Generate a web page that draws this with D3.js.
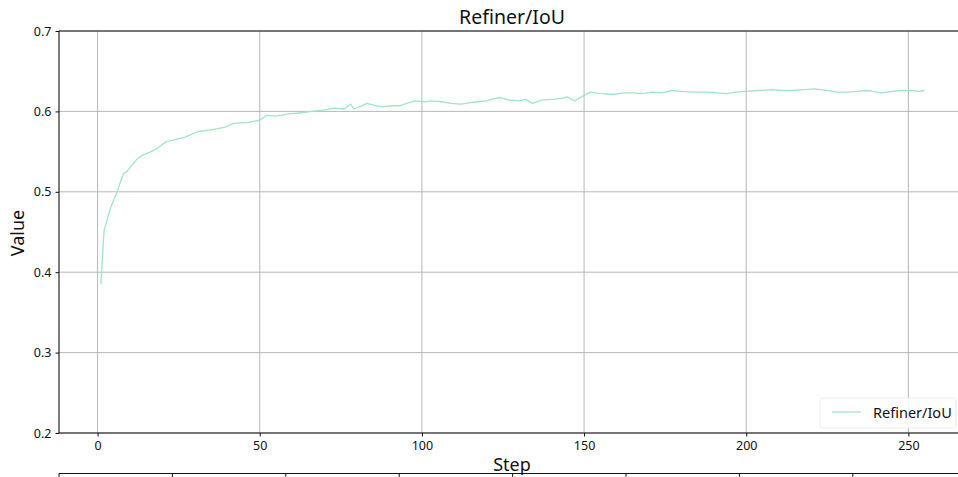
<!DOCTYPE html>
<html>
<head>
<meta charset="utf-8">
<script src="https://cdn.jsdelivr.net/npm/d3@7"></script>
<style>
  body { margin: 0; background: #fff; }
  svg text { font-family: "Noto Sans", "DejaVu Sans", sans-serif; fill: #111; }
</style>
</head>
<body>
<div id="chart"></div>
<script>
// Refiner/IoU values
var steps = [1,2,3,4,5,6,7,8,9,10,12,14,16,18,21,24,27,31,35,39,42,46,50,52,55,59,62,66,70,73,
    76,78,79,81,83,86,88,91,93,96,98,101,103,106,109,112,115,117,120,122,124,127,130,132,134,137,
    140,143,145,147,150,152,155,159,162,165,168,171,174,177,180,184,188,191,194,197,200,204,208,
    211,214,218,221,225,228,231,234,237,239,242,245,248,251,253,255];
var iou = [0.385,0.452,0.466,0.480,0.490,0.499,0.512,0.523,0.525,0.530,0.540,0.546,0.549,0.553,
    0.562,0.565,0.568,0.575,0.577,0.580,0.585,0.586,0.589,0.595,0.594,0.597,0.598,0.600,0.602,0.604,
    0.603,0.609,0.603,0.606,0.610,0.607,0.606,0.607,0.607,0.611,0.613,0.612,0.613,0.612,0.610,0.609,
    0.611,0.612,0.613,0.616,0.617,0.614,0.613,0.615,0.610,0.614,0.615,0.616,0.618,0.613,0.620,0.624,
    0.622,0.621,0.623,0.623,0.622,0.624,0.623,0.626,0.625,0.624,0.624,0.623,0.622,0.624,0.625,0.626,
    0.627,0.626,0.626,0.627,0.628,0.626,0.624,0.624,0.625,0.626,0.625,0.623,0.625,0.626,0.626,0.625,0.626];

var xTicks = [0, 50, 100, 150, 200, 250];
var yTicks = [0.2, 0.3, 0.4, 0.5, 0.6, 0.7];
var lowerCols = [0, 1, 2, 3, 4, 5, 6, 7];   // edge of the next panel, cut off at the bottom

var seriesName = "Refiner/IoU";
var lineColor = "#9fe6c2";

var margin = {top: 31, right: 0, bottom: 44, left: 59};
var totalW = 958, totalH = 477;
var width = totalW - margin.left - margin.right;
var height = totalH - margin.top - margin.bottom;

var svg = d3.select("#chart").append("svg")
    .attr("width", totalW)
    .attr("height", totalH);

var g = svg.append("g")
    .attr("transform", "translate(" + margin.left + "," + margin.top + ")");

var x = d3.scaleLinear().domain([-11.9, 265.3]).range([0, width]);
var y = d3.scaleLinear().domain([0.2, 0.7]).range([height, 0]);

// grid
g.append("g")
    .selectAll("line.vgrid")
    .data(xTicks)
    .enter().append("line")
    .attr("x1", d => x(d)).attr("x2", d => x(d))
    .attr("y1", 0).attr("y2", height)
    .attr("stroke", "#b0b0b0").attr("stroke-width", 0.9);

g.append("g")
    .selectAll("line.hgrid")
    .data(yTicks)
    .enter().append("line")
    .attr("x1", 0).attr("x2", width)
    .attr("y1", d => y(d)).attr("y2", d => y(d))
    .attr("stroke", "#b0b0b0").attr("stroke-width", 0.9);

// axes
var xAxis = g.append("g")
    .attr("transform", "translate(0," + height + ")")
    .call(d3.axisBottom(x).tickValues(xTicks).tickSize(3.5).tickPadding(5).tickFormat(d3.format("d")));
var yAxis = g.append("g")
    .call(d3.axisLeft(y).tickValues(yTicks).tickSize(3.5).tickPadding(4).tickFormat(d3.format(".1f")));

[xAxis, yAxis].forEach(function(a){
    a.select(".domain").remove();
    a.selectAll("text").style("font-size", "12.5px").attr("fill", "#111");
    a.selectAll("line").attr("stroke", "#111");
});

// spines: left, top, bottom
g.append("line").attr("x1", 0).attr("x2", 0).attr("y1", 0).attr("y2", height)
    .attr("stroke", "#111").attr("stroke-width", 1.1);
g.append("line").attr("x1", 0).attr("x2", width).attr("y1", 0).attr("y2", 0)
    .attr("stroke", "#111").attr("stroke-width", 1.1);
g.append("line").attr("x1", 0).attr("x2", width).attr("y1", height).attr("y2", height)
    .attr("stroke", "#111").attr("stroke-width", 1.1);

// the series
var data = steps.map((s, i) => [s, iou[i]]);
var line = d3.line()
    .x(d => x(d[0]))
    .y(d => y(d[1]));

g.append("path")
    .datum(data)
    .attr("d", line)
    .attr("fill", "none")
    .attr("stroke", lineColor)
    .attr("stroke-width", 1.3)
    .attr("stroke-linejoin", "round");

// title and labels
svg.append("text")
    .attr("x", 512)
    .attr("y", 24)
    .attr("text-anchor", "middle")
    .style("font-size", "19.5px")
    .text(seriesName);

svg.append("text")
    .attr("transform", "translate(24,233) rotate(-90)")
    .attr("text-anchor", "middle")
    .style("font-size", "18px")
    .text("Value");

svg.append("text")
    .attr("x", 512)
    .attr("y", 471)
    .attr("text-anchor", "middle")
    .style("font-size", "18px")
    .text("Step");

// legend, lower right
var legend = g.append("g")
    .attr("transform", "translate(" + (width - 138) + "," + (height - 35) + ")");
legend.append("rect")
    .attr("width", 136).attr("height", 30).attr("rx", 3)
    .attr("fill", "#fff").attr("fill-opacity", 0.85)
    .attr("stroke", "#ececec");
legend.append("line")
    .attr("x1", 12).attr("x2", 41).attr("y1", 14).attr("y2", 14)
    .attr("stroke", lineColor).attr("stroke-width", 1.3);
legend.append("text")
    .attr("x", 53).attr("y", 19.5)
    .style("font-size", "14.5px")
    .text(seriesName);

// top edge of the panel below, cut by the frame
var lower = d3.scaleLinear().domain([0, 8]).range([59, 59 + 8 * 113.4]);
svg.append("line")
    .attr("x1", lower(0)).attr("x2", totalW)
    .attr("y1", 473.5).attr("y2", 473.5)
    .attr("stroke", "#111").attr("stroke-width", 1.2);
svg.append("g")
    .selectAll("line")
    .data(lowerCols)
    .enter().append("line")
    .attr("x1", d => lower(d)).attr("x2", d => lower(d))
    .attr("y1", 473.5).attr("y2", 477)
    .attr("stroke", "#111").attr("stroke-width", 1);
</script>
</body>
</html>
